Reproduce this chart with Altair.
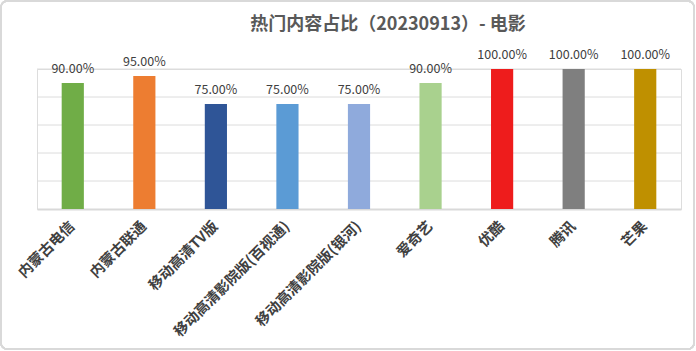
import altair as alt
import pandas as pd

categories = ["内蒙古电信", "内蒙古联通", "移动高清TV版", "移动高清影院版(百视通)",
              "移动高清影院版(银河)", "爱奇艺", "优酷", "腾讯", "芒果"]
values = [0.90, 0.95, 0.75, 0.75, 0.75, 0.90, 1.00, 1.00, 1.00]
colors = ["#70AD47", "#ED7D31", "#2F5597", "#5B9BD5", "#8FAADC",
          "#A9D18E", "#EE1C1C", "#7F7F7F", "#BF9000"]
tick_values = [0.2, 0.4, 0.6, 0.8, 1.0]

df = pd.DataFrame({"cat": categories, "val": values, "color": colors,
                   "label": [f"{v*100:.2f}%" for v in values]})
grid_df = pd.DataFrame({"tick": tick_values})

W, H = 644, 140
PL, PT, PR, PB = 37, 69, 15, 142
FONT = "Noto Sans CJK SC"

yscale = alt.Scale(domain=[0, 1])

x = alt.X("cat:N", sort=categories, title=None,
          scale=alt.Scale(paddingInner=0.69, paddingOuter=0.345),
          axis=alt.Axis(labelAngle=-45, labelAlign="right", labelBaseline="middle",
                        labelFontSize=14.5, labelFontWeight="bold", labelColor="#404040",
                        labelFont=FONT, labelPadding=15, ticks=False, grid=False,
                        domainColor="#D9D9D9", domainWidth=2, labelLimit=300))
y = alt.Y("val:Q", title=None, scale=yscale, axis=None)

grid = alt.Chart(grid_df).mark_rule(color="#DCDCDC", strokeWidth=1).encode(
    y=alt.Y("tick:Q", scale=yscale, axis=None))
bars = alt.Chart(df).mark_bar().encode(x=x, y=y, color=alt.Color("color:N", scale=None))
labels = alt.Chart(df).mark_text(dy=-10, fontSize=12.5, color="#404040", font=FONT,
                                 baseline="alphabetic").encode(
    x=alt.X("cat:N", sort=categories), y=alt.Y("val:Q", axis=None), text="label:N")

frame = alt.Chart(df).mark_rect(fill=None, stroke="#D9D9D9", strokeWidth=1.5,
                                cornerRadius=6).encode(
    x=alt.value(-PL + 1), x2=alt.value(W + PR - 2),
    y=alt.value(-PT + 1), y2=alt.value(H + PB - 2))

chart = alt.layer(frame, grid, bars, labels).properties(
    width=W, height=H,
    autosize=alt.AutoSizeParams(type="none"),
    padding={"left": PL, "top": PT, "right": PR, "bottom": PB},
    title=alt.TitleParams("热门内容占比（20230913）- 电影", fontSize=18, fontWeight="bold",
                          color="#595959", font=FONT, anchor="middle", frame="group",
                          baseline="alphabetic", offset=0, dy=48, dx=29),
).configure_view(stroke=None).configure(background="white")

chart.save("out.html", embed_options={"renderer": "svg", "actions": False})
